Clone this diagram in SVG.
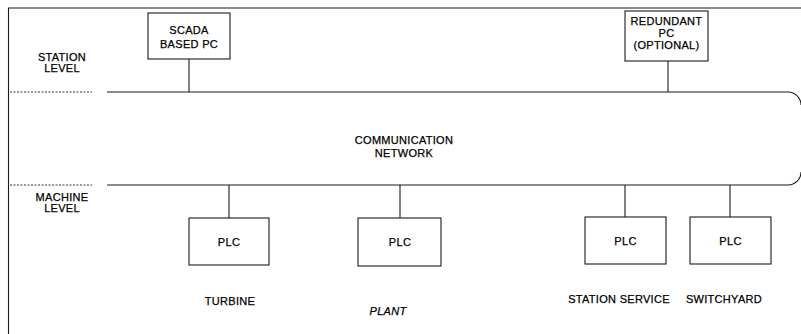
<svg xmlns="http://www.w3.org/2000/svg" width="801" height="334" viewBox="0 0 801 334">
<style>
  .ln { stroke: #1a1a1a; stroke-width: 1.1; fill: none; }
  .box { stroke: #1a1a1a; stroke-width: 1.1; fill: #ffffff; }
  .dot { stroke: #333; stroke-width: 1; stroke-dasharray: 2 1.5; fill: none; }
  .t { font-family: "Liberation Sans", Arial, sans-serif; font-size: 11px; letter-spacing: 0.3px; fill: #000; stroke: #000; stroke-width: 0.25; text-anchor: middle; }
  .it { font-style: italic; }
</style>
<rect x="0" y="0" width="801" height="334" fill="#ffffff"/>

<g id="frame">
  <line class="ln" x1="8" y1="8" x2="801" y2="8"/>
  <line class="ln" x1="8.5" y1="8" x2="8.5" y2="334" stroke-width="1.5"/>
  <line class="dot" x1="10" y1="92" x2="92" y2="92"/>
  <line class="dot" x1="10" y1="185" x2="92" y2="185"/>
  <text class="t" x="62" y="61">STATION</text>
  <text class="t" x="62" y="72">LEVEL</text>
  <text class="t" x="62" y="201">MACHINE</text>
  <text class="t" x="62" y="212">LEVEL</text>
</g>

<g id="network">
  <path class="ln" d="M107 92 H788 A13 13 0 0 1 801 105 M801 172 A13 13 0 0 1 788 185 H107"/>
  <text class="t" x="404" y="144">COMMUNICATION</text>
  <text class="t" x="404" y="157">NETWORK</text>
</g>

<g id="connectors">
  <line class="ln" x1="189" y1="59" x2="189" y2="92"/>
  <line class="ln" x1="668" y1="61" x2="668" y2="92"/>
  <line class="ln" x1="229" y1="185" x2="229" y2="218"/>
  <line class="ln" x1="400" y1="185" x2="400" y2="218"/>
  <line class="ln" x1="625" y1="185" x2="625" y2="217"/>
  <line class="ln" x1="730" y1="185" x2="730" y2="217"/>
</g>

<g id="scada-pc">
  <rect class="box" x="148" y="13" width="82" height="46"/>
  <text class="t" x="189" y="34">SCADA</text>
  <text class="t" x="189" y="48">BASED PC</text>
</g>

<g id="redundant-pc">
  <rect class="box" x="625" y="11" width="83" height="50"/>
  <text class="t" x="666.5" y="25">REDUNDANT</text>
  <text class="t" x="666.5" y="37">PC</text>
  <text class="t" x="666.5" y="49">(OPTIONAL)</text>
</g>

<g id="plc-turbine">
  <rect class="box" x="189" y="218" width="80" height="47"/>
  <text class="t" x="229" y="246">PLC</text>
  <text class="t" x="230" y="305">TURBINE</text>
</g>

<g id="plc-plant">
  <rect class="box" x="358" y="218" width="83" height="48"/>
  <text class="t" x="400" y="246">PLC</text>
  <text class="t it" x="388" y="315">PLANT</text>
</g>

<g id="plc-station-service">
  <rect class="box" x="585" y="217" width="81" height="47"/>
  <text class="t" x="625.5" y="245">PLC</text>
  <text class="t" x="619" y="303">STATION SERVICE</text>
</g>

<g id="plc-switchyard">
  <rect class="box" x="690" y="217" width="81" height="47"/>
  <text class="t" x="730.5" y="245">PLC</text>
  <text class="t" x="724" y="303">SWITCHYARD</text>
</g>
</svg>
